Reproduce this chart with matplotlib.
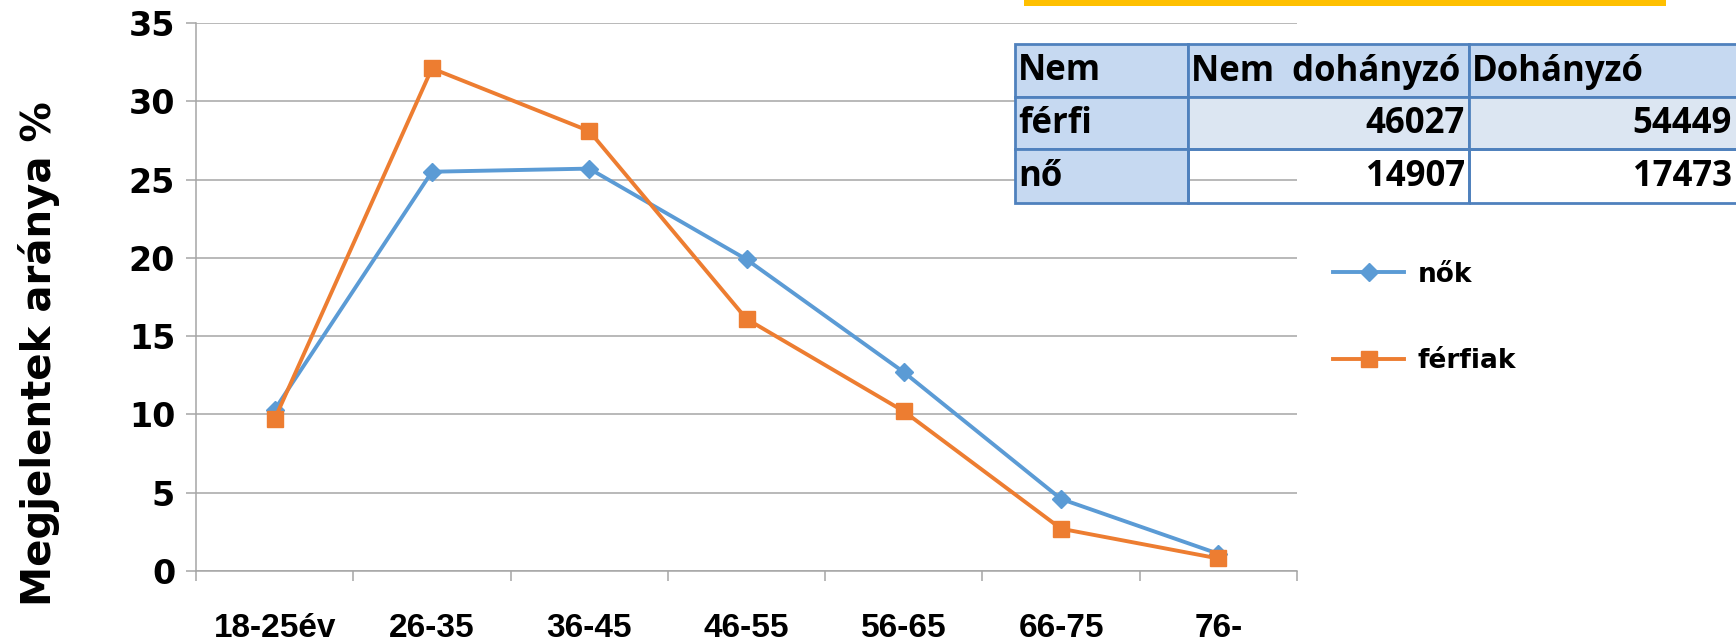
import matplotlib
matplotlib.use("Agg")
from matplotlib import pyplot as plt
from matplotlib import patches

# data
age_groups = ['18-25év', '26-35', '36-45', '46-55', '56-65', '66-75', '76-']
nok = [10.3, 25.5, 25.7, 19.9, 12.7, 4.6, 1.1]
ferfiak = [9.7, 32.1, 28.1, 16.1, 10.2, 2.7, 0.8]
series_labels = ['nők', 'férfiak']

table_header = ['Nem', 'Nem  dohányzó', 'Dohányzó']
table_rows = [['férfi', 46027, 54449], ['nő', 14907, 17473]]

W, H = 1736, 644
fig = plt.figure(figsize=(W / 100, H / 100), dpi=100)

def fx(px):
    return px / W

def fy(py):
    return 1 - py / H

ax_l, ax_r, ax_t, ax_b = 196, 1297, 23, 571
ax = fig.add_axes([fx(ax_l), fy(ax_b), fx(ax_r - ax_l), (ax_b - ax_t) / H])

x = list(range(len(age_groups)))
grid_col = '#A6A6A6'

ax.plot(x, nok, color='#5B9BD5', lw=2.8, marker='D', ms=9, label=series_labels[0], zorder=3)
ax.plot(x, ferfiak, color='#ED7D31', lw=2.8, marker='s', ms=11, label=series_labels[1], zorder=3)

ax.set_xlim(-0.5, len(age_groups) - 0.5)
ax.set_ylim(0, 35)
ax.set_yticks(range(0, 36, 5))
ax.grid(axis='y', color=grid_col, lw=1.1)
ax.set_axisbelow(True)

for s in ['top', 'right']:
    ax.spines[s].set_visible(False)
for s in ['left', 'bottom']:
    ax.spines[s].set_color(grid_col)
    ax.spines[s].set_linewidth(1.1)

ax.set_xticks(x)
ax.set_xticklabels(age_groups, fontfamily='Liberation Sans', fontweight='bold', fontsize=24)
ax.set_xticks([i - 0.5 for i in range(len(age_groups) + 1)], minor=True)
ax.tick_params(axis='x', which='major', length=0, pad=30)
ax.tick_params(axis='x', which='minor', length=7, color=grid_col, width=1.1)
ax.tick_params(axis='y', length=7, color=grid_col, width=1.1, pad=8)
for t in ax.get_yticklabels():
    t.set_fontfamily('DejaVu Sans')
    t.set_fontweight('bold')
    t.set_fontsize(24)

fig.text(fx(39), fy(354), 'Megjelentek aránya %', rotation=90, ha='center', va='center',
         fontfamily='DejaVu Sans', fontweight='bold', fontsize=29)

fig.legend(loc='center left', bbox_to_anchor=(fx(1333), fy(318)), frameon=False,
           prop={'family': 'DejaVu Sans', 'weight': 'bold', 'size': 19},
           handlelength=2.7, handletextpad=0.5, labelspacing=2.3, borderpad=0,
           borderaxespad=0)

# yellow bar at the top
fig.add_artist(patches.Rectangle((fx(1024), fy(6)), fx(1666 - 1024), 6 / H,
                                 transform=fig.transFigure, facecolor='#FFC000',
                                 edgecolor='none'))

# table
col_edges = [1015, 1188, 1469, 1740]
row_edges = [44, 97, 149, 203]
dark = '#C6D9F1'
light = '#DCE6F2'
cells = [table_header] + [[r[0], str(r[1]), str(r[2])] for r in table_rows]
fills = [[dark, dark, dark], [dark, light, light], [dark, 'none', 'none']]
for i, row in enumerate(cells):
    y0, y1 = row_edges[i], row_edges[i + 1]
    for j, txt in enumerate(row):
        x0, x1 = col_edges[j], col_edges[j + 1]
        fig.add_artist(patches.Rectangle((fx(x0), fy(y1)), fx(x1 - x0), (y1 - y0) / H,
                                         transform=fig.transFigure, facecolor=fills[i][j],
                                         edgecolor='#4F81BD', lw=2, zorder=5))
        if i > 0 and j > 0:
            fig.text(fx(min(x1, 1736) - 4), fy((y0 + y1) / 2 + 1), txt, ha='right', va='center',
                     fontfamily='Open Sans', fontweight='bold', fontsize=25, zorder=6)
        else:
            fig.text(fx(x0 + 3), fy((y0 + y1) / 2 + 1), txt, ha='left', va='center',
                     fontfamily='Open Sans', fontweight='bold', fontsize=25, zorder=6)

fig.savefig('out.png', dpi=100)
